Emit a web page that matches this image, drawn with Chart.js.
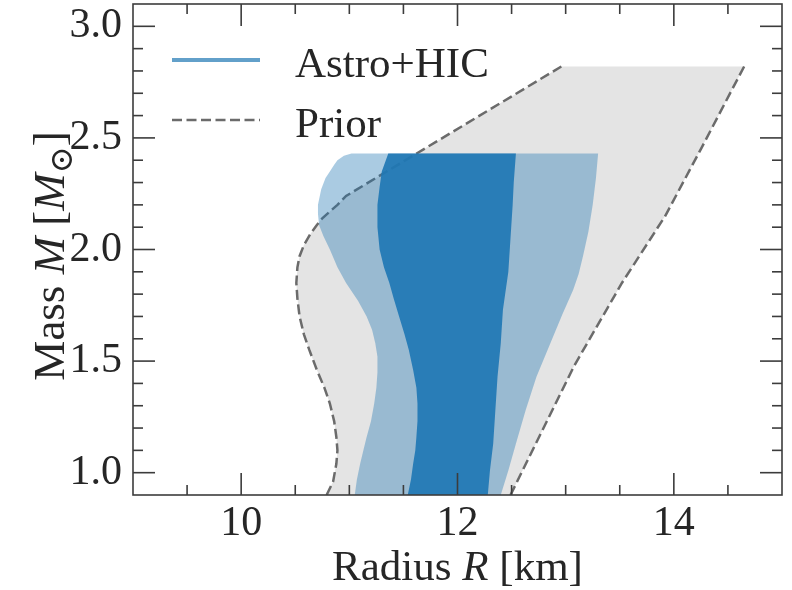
<!DOCTYPE html>
<html>
<head>
<meta charset="utf-8">
<title>Mass-radius</title>
<script src="https://cdn.jsdelivr.net/npm/chart.js@4.4.1/dist/chart.umd.min.js"></script>
<style>
  html, body { margin: 0; padding: 0; background: #fff; }
</style>
</head>
<body>
<canvas id="mrChart" width="792" height="590"></canvas>
<script>
// Prior envelope: left (dashed) edge, bottom to top
const priorLeftR = [10.79, 10.85, 10.88, 10.89, 10.88, 10.86, 10.82, 10.77, 10.70, 10.63, 10.58, 10.54, 10.52, 10.51, 10.52, 10.54, 10.58, 10.64, 10.70, 10.75, 10.82, 10.89, 10.97, 12.96];
const priorLeftM = [0.90, 0.96, 1.04, 1.10, 1.16, 1.23, 1.31, 1.38, 1.46, 1.55, 1.62, 1.70, 1.78, 1.85, 1.92, 1.97, 2.02, 2.07, 2.11, 2.14, 2.17, 2.20, 2.24, 2.82];
// Prior envelope: right (dashed) edge, top to bottom
const priorRightR = [14.65, 14.25, 13.92, 13.52, 13.08, 12.49];
const priorRightM = [2.82, 2.45, 2.15, 1.85, 1.48, 0.90];

// Astro+HIC outer band: left edge bottom to top, right edge top to bottom
const outerLeftR = [11.05, 11.07, 11.10, 11.13, 11.16, 11.20, 11.23, 11.25, 11.26, 11.26, 11.24, 11.21, 11.16, 11.08, 10.97, 10.89, 10.82, 10.76, 10.72, 10.71, 10.71, 10.74, 10.78, 10.82, 10.86, 10.89, 10.95, 11.02];
const outerLeftM = [0.90, 0.97, 1.04, 1.10, 1.16, 1.23, 1.31, 1.38, 1.45, 1.52, 1.58, 1.64, 1.70, 1.77, 1.85, 1.92, 2.00, 2.06, 2.11, 2.16, 2.20, 2.27, 2.32, 2.35, 2.38, 2.40, 2.42, 2.43];
const outerRightR = [13.30, 13.28, 13.25, 13.21, 13.16, 13.12, 13.07, 12.97, 12.85, 12.73, 12.63, 12.54, 12.47, 12.40];
const outerRightM = [2.43, 2.32, 2.20, 2.08, 1.97, 1.89, 1.82, 1.71, 1.57, 1.43, 1.28, 1.13, 1.01, 0.90];

// Astro+HIC inner band
const innerLeftR = [11.54, 11.57, 11.59, 11.61, 11.62, 11.63, 11.63, 11.62, 11.59, 11.55, 11.51, 11.46, 11.41, 11.37, 11.32, 11.28, 11.26, 11.26, 11.28, 11.30, 11.36];
const innerLeftM = [0.90, 0.97, 1.04, 1.10, 1.16, 1.23, 1.31, 1.38, 1.46, 1.55, 1.62, 1.70, 1.78, 1.85, 1.92, 2.00, 2.10, 2.20, 2.28, 2.35, 2.43];
const innerRightR = [12.54, 12.52, 12.51, 12.49, 12.47, 12.42, 12.40, 12.37, 12.35, 12.33, 12.30, 12.28];
const innerRightM = [2.43, 2.30, 2.20, 2.05, 1.90, 1.73, 1.58, 1.43, 1.28, 1.13, 1.01, 0.90];

const xTicks = [10, 12, 14];
const yTicks = [1.0, 1.5, 2.0, 2.5, 3.0];

const FONT = '"Liberation Serif", "DejaVu Serif", serif';
const INK = '#262626';

const pts = (rs, ms) => rs.map((r, i) => ({ x: r, y: ms[i] }));
const closed = (a, b) => { const p = a.concat(b); p.push(p[0]); return p; };

const priorShape = closed(pts(priorLeftR, priorLeftM), pts(priorRightR, priorRightM));
const outerShape = closed(pts(outerLeftR, outerLeftM), pts(outerRightR, outerRightM));
const innerShape = closed(pts(innerLeftR, innerLeftM), pts(innerRightR, innerRightM));

// frame plus inward major/minor ticks on all four sides
const frameTicks = {
  id: 'frameTicks',
  afterDatasetsDraw(chart) {
    const { ctx, chartArea: a, scales: { x, y } } = chart;
    ctx.save();
    ctx.strokeStyle = '#3c3c3c';
    ctx.lineWidth = 1.6;
    const seg = (x0, y0, x1, y1) => { ctx.beginPath(); ctx.moveTo(x0, y0); ctx.lineTo(x1, y1); ctx.stroke(); };
    for (let i = 19; i <= 29; i++) {
      const v = i / 2;
      const px = x.getPixelForValue(v);
      const len = xTicks.includes(v) ? 22 : 10;
      seg(px, a.bottom, px, a.bottom - len);
      seg(px, a.top, px, a.top + len);
    }
    for (let i = 10; i <= 30; i++) {
      const py = y.getPixelForValue(i / 10);
      const len = i % 5 === 0 ? 22 : 10;
      seg(a.left, py, a.left + len, py);
      seg(a.right, py, a.right - len, py);
    }
    ctx.strokeRect(a.left, a.top, a.right - a.left, a.bottom - a.top);
    ctx.restore();
  }
};

// draws a run of [text, style] pieces starting at x
function drawRuns(ctx, runs, x0, base, size) {
  let x = x0;
  runs.forEach(([t, kind]) => {
    if (kind === 'sub') {
      ctx.font = Math.round(size * 0.72) + 'px ' + FONT;
      ctx.fillText(t, x, base + 8);
    } else {
      ctx.font = (kind === 'it' ? 'italic ' : '') + size + 'px ' + FONT;
      ctx.fillText(t, x, base);
    }
    x += ctx.measureText(t).width;
  });
  return x - x0;
}
function runsWidth(ctx, runs, size) {
  let w = 0;
  runs.forEach(([t, kind]) => {
    ctx.font = kind === 'sub' ? Math.round(size * 0.72) + 'px ' + FONT : (kind === 'it' ? 'italic ' : '') + size + 'px ' + FONT;
    w += ctx.measureText(t).width;
  });
  return w;
}

const axisTitles = {
  id: 'axisTitles',
  afterDraw(chart) {
    const { ctx, chartArea: a } = chart;
    ctx.save();
    ctx.fillStyle = INK;
    ctx.textBaseline = 'alphabetic';
    ctx.textAlign = 'left';
    const xr = [['Radius ', 'rm'], ['R', 'it'], [' [km]', 'rm']];
    const xw = runsWidth(ctx, xr, 43);
    drawRuns(ctx, xr, (a.left + a.right) / 2 - xw / 2, 580, 43);

    const yr = [['Mass ', 'rm'], ['M', 'it'], [' [', 'rm'], ['M', 'it'], ['\u2299', 'sub'], [']', 'rm']];
    const yw = runsWidth(ctx, yr, 45);
    ctx.translate(64, 256);
    ctx.rotate(-Math.PI / 2);
    drawRuns(ctx, yr, -yw / 2, 0, 45);
    ctx.restore();
  }
};

const insetLegend = {
  id: 'insetLegend',
  afterDraw(chart) {
    const { ctx } = chart;
    ctx.save();
    ctx.lineCap = 'butt';
    ctx.strokeStyle = 'rgba(31,119,180,0.7)';
    ctx.lineWidth = 4;
    ctx.beginPath(); ctx.moveTo(172, 60); ctx.lineTo(260, 60); ctx.stroke();
    ctx.strokeStyle = '#6b6b6b';
    ctx.lineWidth = 2.5;
    ctx.setLineDash([10, 4.5]);
    ctx.beginPath(); ctx.moveTo(172, 120); ctx.lineTo(260, 120); ctx.stroke();
    ctx.setLineDash([]);
    ctx.fillStyle = INK;
    ctx.font = '43px ' + FONT;
    ctx.textBaseline = 'alphabetic';
    ctx.fillText(chart.data.datasets[3].label, 295, 77);
    ctx.fillText(chart.data.datasets[1].label, 295, 137);
    ctx.restore();
  }
};

const ctx = document.getElementById('mrChart').getContext('2d');
new Chart(ctx, {
  type: 'line',
  data: {
    datasets: [
      {
        label: 'prior region',
        data: priorShape,
        backgroundColor: '#e4e4e4',
        borderWidth: 0,
        fill: 'shape',
        order: 5
      },
      {
        label: 'Prior',
        data: pts(priorLeftR, priorLeftM),
        borderColor: '#6b6b6b',
        borderWidth: 2.5,
        borderDash: [10, 4.5],
        fill: false,
        order: 4
      },
      {
        label: 'Prior right',
        data: pts(priorRightR, priorRightM),
        borderColor: '#6b6b6b',
        borderWidth: 2.5,
        borderDash: [10, 4.5],
        fill: false,
        order: 4
      },
      {
        label: 'Astro+HIC',
        data: outerShape,
        backgroundColor: 'rgba(31,119,180,0.38)',
        borderWidth: 0,
        fill: 'shape',
        order: 3
      },
      {
        label: 'Astro+HIC inner',
        data: innerShape,
        backgroundColor: 'rgba(31,119,180,0.92)',
        borderWidth: 0,
        fill: 'shape',
        order: 2
      }
    ]
  },
  options: {
    responsive: false,
    animation: false,
    layout: { padding: { top: 4, right: 10, left: 0, bottom: 0 } },
    elements: { point: { radius: 0 }, line: { tension: 0 } },
    plugins: {
      legend: { display: false },
      tooltip: { enabled: false }
    },
    scales: {
      x: {
        type: 'linear',
        min: 9,
        max: 15,
        afterBuildTicks: s => { s.ticks = xTicks.map(v => ({ value: v })); },
        afterFit: s => { s.height = 95; s.paddingLeft = 0; s.paddingRight = 0; },
        grid: { display: false, drawTicks: false },
        border: { display: false },
        ticks: { color: INK, font: { family: FONT, size: 42 }, padding: 4, maxRotation: 0, autoSkip: false }
      },
      y: {
        type: 'linear',
        min: 0.9,
        max: 3.1,
        afterBuildTicks: s => { s.ticks = yTicks.map(v => ({ value: v })); },
        afterFit: s => { s.width = 133; s.paddingTop = 0; s.paddingBottom = 0; },
        grid: { display: false, drawTicks: false },
        border: { display: false },
        ticks: { color: INK, font: { family: FONT, size: 42 }, padding: 11, autoSkip: false, callback: v => v.toFixed(1) }
      }
    }
  },
  plugins: [frameTicks, axisTitles, insetLegend]
});
</script>
</body>
</html>
